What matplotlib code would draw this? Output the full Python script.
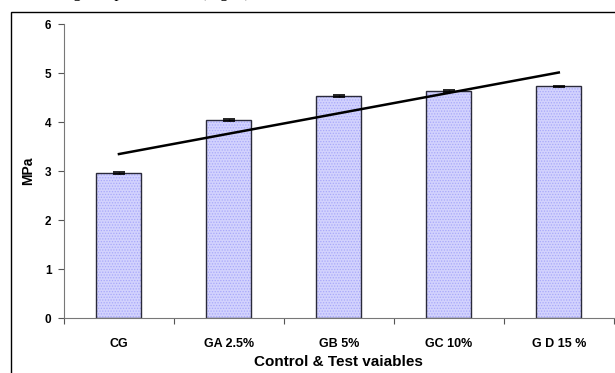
import matplotlib.pyplot as plt
import numpy as np
import matplotlib as mpl
from matplotlib.patches import Rectangle

groups = ['CG', 'GA 2.5%', 'GB 5%', 'GC 10%', 'G D 15 %']
mpa = [2.96, 4.04, 4.54, 4.64, 4.74]
mpa_err = [0.02, 0.02, 0.02, 0.02, 0.01]
y_ticks = [0, 1, 2, 3, 4, 5, 6]

mpl.rcParams['font.family'] = ['Liberation Sans', 'DejaVu Sans']
mpl.rcParams['hatch.linewidth'] = 0.6

fig = plt.figure(figsize=(6.15, 3.73), dpi=100)
ax = fig.add_axes([0.104, 0.1466, 0.894, 0.7883])

# outer frame (cut off on the right and bottom)
fig.patches.append(Rectangle((11 / 615, -0.2), 2.0, 1.2 + (1 - 12 / 373) - 1.0,
                             transform=fig.transFigure, fill=False,
                             edgecolor='black', linewidth=1.0))
# clipped caption line from the page above
fig.text(0.062, 1.02, 'during compressive test (Fig. 4)', family='Liberation Serif',
         fontsize=12, ha='left', va='center')

index = np.arange(len(groups))
# dotted fill (hatch takes the edge colour), then the dark outline on top
ax.bar(index, mpa, 0.41, color='#d2d2fd', edgecolor='#a8a8fa', linewidth=0,
       hatch='......', zorder=2)
ax.bar(index, mpa, 0.41, fill=False, edgecolor='#2a2a3a', linewidth=1.0, zorder=2.5)
ax.errorbar(index, mpa, yerr=mpa_err, fmt='none', ecolor='black', elinewidth=1,
            capsize=4, capthick=1.2, zorder=3)

coef = np.polyfit(index, mpa, 1)
ax.plot(index, np.polyval(coef, index), color='black', linewidth=1.8, zorder=4)

ax.set_xlim(-0.5, len(groups) - 0.5)
ax.set_ylim(0, 6)
ax.set_yticks(y_ticks)
ax.set_yticklabels([str(v) for v in y_ticks], fontsize=8.5, fontweight='bold')
ax.set_xticks(index)
ax.set_xticklabels(groups, fontsize=9, fontweight='bold')
ax.set_xticks(np.arange(len(groups) + 1) - 0.5, minor=True)
ax.tick_params(axis='x', which='major', length=0, pad=14)
ax.tick_params(axis='x', which='minor', length=4, width=0.8, color='#555555', direction='out')
ax.tick_params(axis='y', length=4, width=0.8, color='#555555', pad=5)

for s in ['top', 'right']:
    ax.spines[s].set_visible(False)
for s in ['left', 'bottom']:
    ax.spines[s].set_color('#777777')
    ax.spines[s].set_linewidth(0.8)

ax.set_ylabel('MPa', fontsize=10, fontweight='bold', labelpad=7)
ax.set_xlabel('Control & Test vaiables', fontsize=11, fontweight='bold', labelpad=4)

fig.savefig('out.png', dpi=100)
